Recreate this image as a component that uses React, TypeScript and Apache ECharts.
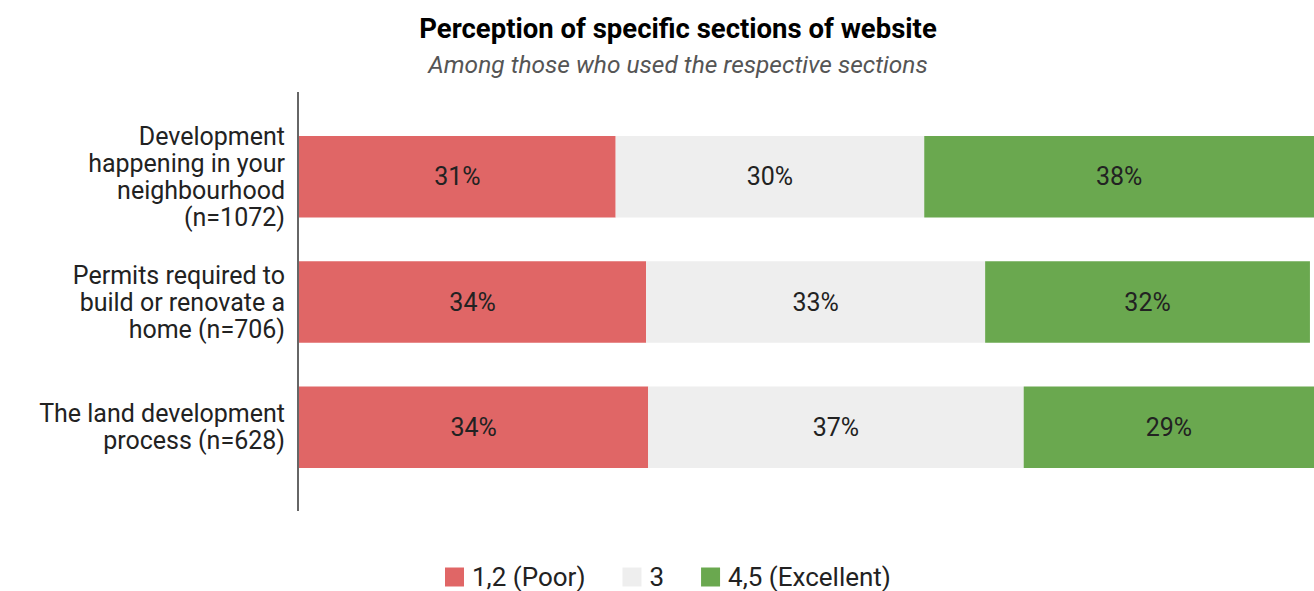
import React, { useEffect, useRef } from "react";
import * as echarts from "echarts";

const categories = [
  "Development\nhappening in your\nneighbourhood\n(n=1072)",
  "Permits required to\nbuild or renovate a\nhome (n=706)",
  "The land development\nprocess (n=628)",
];
const poor = [31.2, 34.2, 34.4];
const neutral = [30.4, 33.4, 37.0];
const excellent = [38.4, 32.0, 28.6];
const seriesNames = ["1,2 (Poor)", "3", "4,5 (Excellent)"];
const colors = ["#E06666", "#EEEEEE", "#6AA84F"];

export default function App() {
  const ref = useRef<HTMLDivElement>(null);
  useEffect(() => {
    if (!ref.current) return;
    const chart = echarts.init(ref.current, undefined, { renderer: "svg" });
    const data = [poor, neutral, excellent];
    chart.setOption({
      animation: false,
      textStyle: { fontFamily: "Roboto" },
      title: [
        {
          text: "Perception of specific sections of website",
          left: 673,
          top: 9,
          textAlign: "center",
          textStyle: { fontFamily: "Roboto", fontSize: 27.5, fontWeight: "bold", color: "#000" },
        },
        {
          text: "Among those who used the respective sections",
          left: 673,
          top: 47,
          textAlign: "center",
          textStyle: { fontFamily: "Roboto", fontSize: 24.5, fontStyle: "italic", fontWeight: "normal", color: "#555" },
        },
      ],
      legend: {
        top: 559,
        left: 440,
        itemWidth: 19,
        itemHeight: 19,
        itemGap: 37,
        icon: "rect",
        data: seriesNames,
        textStyle: { fontFamily: "Roboto", fontSize: 26, lineHeight: 26, color: "#222", padding: [0, 0, 0, 3] },
      },
      grid: { left: 299, right: 0, top: 114, height: 376, containLabel: false },
      xAxis: { type: "value", min: 0, max: 100, show: false },
      yAxis: {
        type: "category",
        data: categories,
        inverse: true,
        axisLine: { show: false },
        axisTick: { show: false },
        axisLabel: {
          fontFamily: "Roboto",
          fontSize: 25,
          lineHeight: 27,
          color: "#222",
          align: "right",
          margin: 14,
        },
      },
      graphic: [
        {
          type: "line",
          shape: { x1: 298, y1: 92, x2: 298, y2: 511 },
          style: { stroke: "#333", lineWidth: 1.5 },
        },
      ],
      series: seriesNames.map((name, i) => ({
        name,
        type: "bar",
        stack: "total",
        barWidth: "65%",
        itemStyle: { color: colors[i] },
        label: {
          show: true,
          position: "inside",
          fontFamily: "Roboto",
          fontSize: 25,
          color: "#222",
          formatter: (p: any) => Math.round(p.value) + "%",
        },
        data: data[i],
      })),
    });
    return () => chart.dispose();
  }, []);
  return (
    <div
      ref={ref}
      style={{ position: "fixed", left: 0, top: 0, width: 1314, height: 591, background: "#fff" }}
    />
  );
}
